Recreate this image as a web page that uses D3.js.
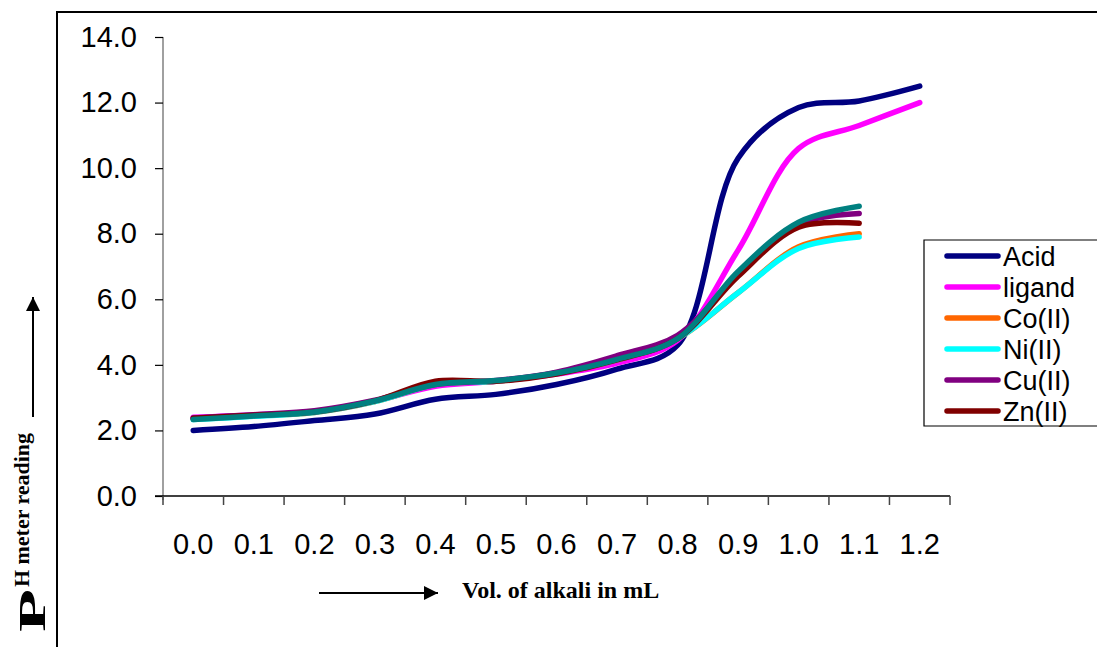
<!DOCTYPE html>
<html>
<head>
<meta charset="utf-8">
<script src="https://cdn.jsdelivr.net/npm/d3@7"></script>
<style>
  body { margin: 0; background: #fff; }
</style>
</head>
<body>
<div id="chart-area"></div>
<script>
// category labels (Excel style line chart)
var volumes = ["0.0", "0.1", "0.2", "0.3", "0.4", "0.5", "0.6", "0.7", "0.8", "0.9", "1.0", "1.1", "1.2"];
var yTicks = [0, 2, 4, 6, 8, 10, 12, 14];

var acid   = [2.0, 2.12, 2.3, 2.5, 2.95, 3.1, 3.4, 3.87, 4.6, 10.3, 11.85, 12.05, 12.5];
var ligand = [2.4, 2.47, 2.58, 2.9, 3.35, 3.5, 3.72, 4.05, 4.75, 7.5, 10.6, 11.3, 12.0];
var coII   = [2.35, 2.45, 2.55, 2.88, 3.4, 3.5, 3.75, 4.15, 4.8, 6.2, 7.6, 8.0];
var niII   = [2.33, 2.43, 2.55, 2.88, 3.4, 3.5, 3.75, 4.15, 4.8, 6.2, 7.55, 7.9];
var cuII   = [2.38, 2.48, 2.6, 2.92, 3.4, 3.52, 3.78, 4.28, 4.9, 6.75, 8.3, 8.62];
var znII   = [2.37, 2.46, 2.56, 2.9, 3.5, 3.5, 3.72, 4.15, 4.8, 6.7, 8.2, 8.32];
var extra  = [2.33, 2.44, 2.56, 2.9, 3.4, 3.52, 3.75, 4.17, 4.8, 6.85, 8.35, 8.84]; // not in legend

var series = [
  { name: "Acid",   values: acid,   color: "#000080", legend: true },
  { name: "ligand", values: ligand, color: "#ff00ff", legend: true },
  { name: "Co(II)", values: coII,   color: "#ff6600", legend: true },
  { name: "Ni(II)", values: niII,   color: "#00ffff", legend: true },
  { name: "Cu(II)", values: cuII,   color: "#800080", legend: true },
  { name: "Zn(II)", values: znII,   color: "#800000", legend: true },
  { name: "",       values: extra,  color: "#008080", legend: false }
];

var sans = "'Liberation Sans', Arial, sans-serif";
var serif = "'Liberation Serif', 'Times New Roman', serif";

var W = 1097, H = 647;
var margin = { top: 37, right: 147, bottom: 151, left: 163 };
var width = W - margin.left - margin.right,
    height = H - margin.top - margin.bottom;

var svg = d3.select("#chart-area")
  .append("svg")
    .attr("width", W)
    .attr("height", H);

// outer frame
svg.append("path")
  .attr("d", "M57,647 V12 H1097")
  .attr("fill", "none")
  .attr("stroke", "#000")
  .attr("stroke-width", 2);

var g = svg.append("g")
  .attr("transform", "translate(" + margin.left + "," + margin.top + ")");

var x = d3.scaleBand()
  .domain(volumes)
  .range([0, width]);

var y = d3.scaleLinear()
  .domain([0, 14])
  .range([height, 0]);

// y axis
var yAxis = g.append("g")
  .call(d3.axisLeft(y).tickValues(yTicks).tickSize(8).tickPadding(18)
    .tickFormat(d3.format(".1f")));
yAxis.select(".domain").attr("stroke", "#808080").attr("stroke-width", 1.5)
  .attr("d", "M0," + (height + 4) + "V0");
yAxis.selectAll(".tick line").attr("stroke", "#000").attr("stroke-width", 1.2);
yAxis.selectAll("text").attr("fill", "#000")
  .style("font-size", "29px").style("font-family", sans);

// x axis
var xAxis = g.append("g")
  .attr("transform", "translate(0," + height + ")")
  .call(d3.axisBottom(x).tickSize(0).tickPadding(37));
xAxis.select(".domain").attr("stroke", "#000").attr("stroke-width", 1.5)
  .attr("d", "M-8,0H" + width);
xAxis.selectAll("text").attr("fill", "#000")
  .style("font-size", "29px").style("font-family", sans);
// boundary ticks between categories
g.append("g").selectAll("line")
  .data(d3.range(volumes.length + 1))
  .enter().append("line")
    .attr("x1", function(i) { return i * x.bandwidth(); })
    .attr("x2", function(i) { return i * x.bandwidth(); })
    .attr("y1", height)
    .attr("y2", height + 9)
    .attr("stroke", "#444")
    .attr("stroke-width", 1.5);

// lines
var line = d3.line()
  .x(function(d, i) { return x(volumes[i]) + x.bandwidth() / 2; })
  .y(function(d) { return y(d); })
  .curve(d3.curveCatmullRom.alpha(0.5));

g.selectAll(".series")
  .data(series)
  .enter().append("path")
    .attr("class", "series")
    .attr("d", function(s) { return line(s.values); })
    .attr("fill", "none")
    .attr("stroke", function(s) { return s.color; })
    .attr("stroke-width", 5.5)
    .attr("stroke-linecap", "round")
    .attr("stroke-linejoin", "round");

// legend
var lg = svg.append("g");
lg.append("path")
  .attr("d", "M1097,240 H924 V426 H1097")
  .attr("fill", "none")
  .attr("stroke", "#000")
  .attr("stroke-width", 1.2);

var items = lg.selectAll(".item")
  .data(series.filter(function(s) { return s.legend; }))
  .enter().append("g")
    .attr("transform", function(d, i) { return "translate(0," + (256 + i * 31) + ")"; });
items.append("line")
  .attr("x1", 947).attr("x2", 998)
  .attr("stroke", function(d) { return d.color; })
  .attr("stroke-width", 5.5)
  .attr("stroke-linecap", "round");
items.append("text")
  .attr("x", 1003)
  .attr("dy", "0.36em")
  .style("font-size", "27px")
  .style("font-family", sans)
  .text(function(d) { return d.name; });

// arrow head
svg.append("defs").append("marker")
  .attr("id", "arrow")
  .attr("viewBox", "0 0 10 10")
  .attr("refX", 10).attr("refY", 5)
  .attr("markerWidth", 14).attr("markerHeight", 14)
  .attr("markerUnits", "userSpaceOnUse")
  .attr("orient", "auto")
  .append("path")
    .attr("d", "M0,0 L10,5 L0,10 z")
    .attr("fill", "#000");

// x label with arrow
svg.append("line")
  .attr("x1", 319).attr("y1", 593)
  .attr("x2", 438).attr("y2", 593)
  .attr("stroke", "#000").attr("stroke-width", 2)
  .attr("marker-end", "url(#arrow)");

svg.append("text")
  .attr("x", 462).attr("y", 598)
  .style("font-family", serif)
  .style("font-weight", "bold")
  .style("font-size", "24px")
  .text("Vol. of alkali in mL");

// y label: big P plus raised "H meter reading"
svg.append("text")
  .attr("transform", "translate(45,632) rotate(-90)")
  .attr("textLength", 43)
  .attr("lengthAdjust", "spacingAndGlyphs")
  .style("font-family", serif)
  .style("font-weight", "bold")
  .style("font-size", "38px")
  .text("P");
svg.append("text")
  .attr("transform", "translate(29,587) rotate(-90)")
  .attr("textLength", 154)
  .attr("lengthAdjust", "spacingAndGlyphs")
  .style("font-family", serif)
  .style("font-weight", "bold")
  .style("font-size", "21px")
  .text("H meter reading");

svg.append("line")
  .attr("x1", 33).attr("y1", 417)
  .attr("x2", 33).attr("y2", 297)
  .attr("stroke", "#000").attr("stroke-width", 2)
  .attr("marker-end", "url(#arrow)");
</script>
</body>
</html>
